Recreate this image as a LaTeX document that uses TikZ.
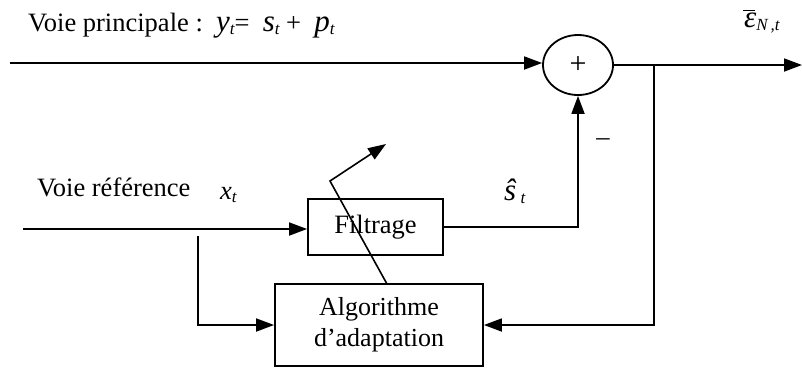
\documentclass[tikz,border=0pt]{standalone}
\usepackage{fontspec}
\setmainfont{Liberation Serif}
\usetikzlibrary{shapes.geometric,arrows.meta}
\newcommand\subi[1]{\raisebox{-3pt}{\fontsize{17}{17}\selectfont\itshape #1}}
\newcommand\bigit[1]{{\fontsize{31}{31}\selectfont\itshape #1}}
\begin{document}
\begin{tikzpicture}[x=1pt,y=-1pt,
  every node/.style={font=\fontsize{26.5}{30}\selectfont},
  ln/.style={line width=1.8pt},
  arr/.style={ln,-{Triangle[length=18pt,width=13pt]}},
  blk/.style={draw,line width=1.8pt,rectangle,inner sep=0pt,align=center},
  lbl/.style={inner sep=0pt,anchor=base west}]
\useasboundingbox (0,0) rectangle (802,370);
% blocks
\node[draw,ellipse,line width=1.8pt,minimum width=70pt,minimum height=60pt,inner sep=0pt] (sum) at (578,65) {\fontsize{30}{30}\selectfont +};
\node[blk,minimum width=135pt,minimum height=56pt] (filt) at (375.5,227) {Filtrage};
\node[blk,minimum width=208pt,minimum height=82pt,font=\fontsize{26}{31}\selectfont] (alg) at (379,325) {Algorithme\\d’adaptation};
% coordinates
\coordinate (in1) at (10,63);
\coordinate (out) at (802,65);
\coordinate (br) at (654,65);
\coordinate (in2) at (23,229);
\coordinate (br2) at (198,236);
\coordinate (d0) at (387,284);
\coordinate (d1) at (330,181);
\coordinate (d2) at (386,144);
% connectors
\draw[arr] (in1) -- (sum.west |- in1);
\draw[arr] (sum.east) -- (out);
\draw[arr] (br) |- (alg.east);
\draw[arr] (filt.east) -| (sum.south);
\draw[arr] (in2) -- (filt.west |- in2);
\draw[arr] (br2) |- (alg.west);
\draw[arr,line width=1.6pt] (d0) -- (d1) -- (d2);
% labels
\node[lbl] (t1) at (28,31) {Voie principale :\ \ \bigit{y}\subi{t}= \ \bigit{s}\subi{t}\ + \ \bigit{p}\subi{t}};
\node[lbl] (eps) at (744,27) {\bigit{ε}\llap{\raisebox{16pt}{\rule{12pt}{1.4pt}}\hspace{1pt}}\subi{N\,,t}};
\node[inner sep=0pt] (minus) at (603,142) {–};
\node[lbl] (shat) at (504,200) {\bigit{ŝ}\,\subi{t}};
\node[lbl] (t2) at (37,196) {Voie référence};
\node[lbl] (xt) at (220,199) {{\itshape x}\subi{t}};
\end{tikzpicture}
\end{document}
